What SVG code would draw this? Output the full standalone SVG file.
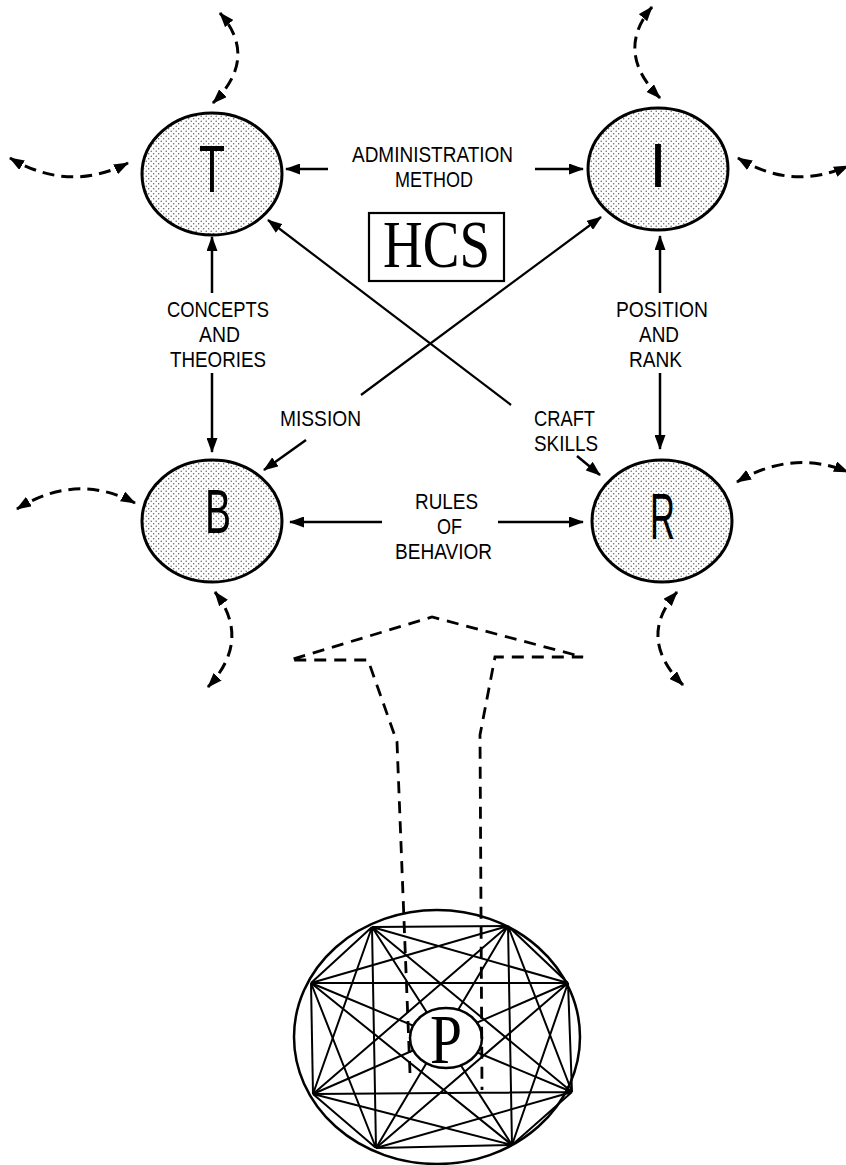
<svg xmlns="http://www.w3.org/2000/svg" width="846" height="1165" viewBox="0 0 846 1165">
<defs>
<pattern id="dots" width="5" height="5" patternUnits="userSpaceOnUse">
<rect width="5" height="5" fill="#fff"/>
<circle cx="1.2" cy="1.2" r="0.7" fill="#555"/>
<circle cx="3.7" cy="3.7" r="0.7" fill="#555"/>
</pattern>
<marker id="ah" markerUnits="userSpaceOnUse" markerWidth="15" markerHeight="11" refX="14" refY="5.5" orient="auto-start-reverse">
<path d="M0,0 L15,5.5 L0,11 z" fill="#000"/>
</marker>
</defs>
<style>
.node{fill:url(#dots);stroke:#000;stroke-width:3}
.big{font-family:"Liberation Sans",Arial,sans-serif;fill:#000}
.lbl{font-family:"Liberation Sans",Arial,sans-serif;font-size:22px;fill:#000}
.serif{font-family:"Liberation Serif","Times New Roman",serif;fill:#000}
.arr{stroke:#000;stroke-width:2.5;fill:none;marker-end:url(#ah)}
.darr{stroke:#000;stroke-width:3;fill:none;stroke-dasharray:12 7;marker-start:url(#ah);marker-end:url(#ah)}
.dash{stroke:#000;stroke-width:2.8;fill:none;stroke-dasharray:12 8}
.k{stroke:#000;stroke-width:2;fill:none}
</style>
<rect width="846" height="1165" fill="#fff"/>

<g id="node-T">
<ellipse class="node" cx="212" cy="174" rx="70" ry="61"/>
<text class="big" x="199" y="192" font-size="66" textLength="26" lengthAdjust="spacingAndGlyphs">T</text>
</g>
<g id="node-I">
<ellipse class="node" cx="658" cy="169" rx="70" ry="61"/>
<text class="big" x="658" y="187" font-size="63" text-anchor="middle">I</text>
</g>
<g id="node-B">
<ellipse class="node" cx="212" cy="521" rx="70" ry="61"/>
<text class="big" x="205" y="533" font-size="63" textLength="26" lengthAdjust="spacingAndGlyphs">B</text>
</g>
<g id="node-R">
<ellipse class="node" cx="662" cy="521" rx="70" ry="61"/>
<text class="big" x="650" y="539" font-size="64" textLength="25" lengthAdjust="spacingAndGlyphs">R</text>
</g>

<g id="node-HCS">
<rect x="369" y="213" width="135" height="68" fill="#fff" stroke="#000" stroke-width="2.2"/>
<text class="serif" x="383" y="267" font-size="68" textLength="107" lengthAdjust="spacingAndGlyphs">HCS</text>
</g>

<g id="node-P">
<ellipse cx="437" cy="1037" rx="143" ry="127" fill="none" stroke="#000" stroke-width="2.5"/>
<g class="k">
<path d="M372,927 L508,926 M372,927 L568,983 M372,927 L572,1092 M372,927 L512,1145 M372,927 L376,1148 M372,927 L313,1094 M372,927 L311,983"/>
<path d="M508,926 L568,983 M508,926 L572,1092 M508,926 L512,1145 M508,926 L376,1148 M508,926 L313,1094 M508,926 L311,983"/>
<path d="M568,983 L572,1092 M568,983 L512,1145 M568,983 L376,1148 M568,983 L313,1094 M568,983 L311,983"/>
<path d="M572,1092 L512,1145 M572,1092 L376,1148 M572,1092 L313,1094 M572,1092 L311,983"/>
<path d="M512,1145 L376,1148 M512,1145 L313,1094 M512,1145 L311,983"/>
<path d="M376,1148 L313,1094 M376,1148 L311,983"/>
<path d="M313,1094 L311,983"/>
</g>
<ellipse cx="446" cy="1038" rx="36" ry="30" fill="#fff" stroke="#000" stroke-width="2.5"/>
<text class="serif" x="430" y="1063" font-size="69" textLength="32" lengthAdjust="spacingAndGlyphs">P</text>
</g>

<g id="labels">
<text class="lbl" x="352" y="162" textLength="161" lengthAdjust="spacingAndGlyphs">ADMINISTRATION</text>
<text class="lbl" x="395" y="187" textLength="78" lengthAdjust="spacingAndGlyphs">METHOD</text>
<text class="lbl" x="167" y="317" textLength="102" lengthAdjust="spacingAndGlyphs">CONCEPTS</text>
<text class="lbl" x="199" y="342" textLength="41" lengthAdjust="spacingAndGlyphs">AND</text>
<text class="lbl" x="170" y="367" textLength="96" lengthAdjust="spacingAndGlyphs">THEORIES</text>
<text class="lbl" x="616" y="317" textLength="92" lengthAdjust="spacingAndGlyphs">POSITION</text>
<text class="lbl" x="639" y="342" textLength="40" lengthAdjust="spacingAndGlyphs">AND</text>
<text class="lbl" x="629" y="367" textLength="53" lengthAdjust="spacingAndGlyphs">RANK</text>
<text class="lbl" x="280" y="426" textLength="81" lengthAdjust="spacingAndGlyphs">MISSION</text>
<text class="lbl" x="534" y="426" textLength="61" lengthAdjust="spacingAndGlyphs">CRAFT</text>
<text class="lbl" x="534" y="451" textLength="64" lengthAdjust="spacingAndGlyphs">SKILLS</text>
<text class="lbl" x="415" y="509" textLength="63" lengthAdjust="spacingAndGlyphs">RULES</text>
<text class="lbl" x="437" y="534" textLength="25" lengthAdjust="spacingAndGlyphs">OF</text>
<text class="lbl" x="395" y="559" textLength="97" lengthAdjust="spacingAndGlyphs">BEHAVIOR</text>
</g>

<g id="connectors">
<line class="arr" x1="328" y1="169" x2="286" y2="169"/>
<line class="arr" x1="535" y1="169" x2="583" y2="169"/>
<line class="arr" x1="212" y1="293" x2="212" y2="237"/>
<line class="arr" x1="212" y1="373" x2="212" y2="452"/>
<line class="arr" x1="660" y1="293" x2="660" y2="236"/>
<line class="arr" x1="660" y1="373" x2="660" y2="449"/>
<line class="arr" x1="382" y1="522" x2="290" y2="522"/>
<line class="arr" x1="498" y1="522" x2="583" y2="522"/>
<line class="arr" x1="511" y1="405" x2="268" y2="220" style="stroke-width:2.2"/>
<line class="arr" x1="361" y1="395" x2="601" y2="217" style="stroke-width:2.2"/>
<line class="arr" x1="306" y1="440" x2="264" y2="470"/>
<line class="arr" x1="577" y1="456" x2="600" y2="475"/>

<path class="darr" d="M213,103 Q259,58 220,13"/>
<path class="darr" d="M128,163 Q69,193 10,158"/>
<path class="darr" d="M660,98 Q614,52 652,7"/>
<path class="darr" d="M738,158 Q792,191 848,166"/>
<path class="darr" d="M135,503 Q76,472 17,509"/>
<path class="darr" d="M215,592 Q252,640 208,687"/>
<path class="darr" d="M737,482 Q792,449 848,472"/>
<path class="darr" d="M677,592 Q636,638 683,685"/>

<path class="dash" d="M410,1073 L397,742 L368,660 L290,660 L432,617 L583,657 L495,657 L480,735 L482,1090"/>
</g>
</svg>
